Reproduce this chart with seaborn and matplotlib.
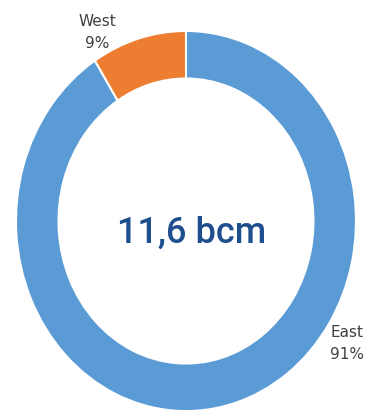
import matplotlib
matplotlib.use('Agg')
import seaborn as sns
import matplotlib.pyplot as plt

# datos del grafico
regiones = ['East', 'West']
porcentajes = [91, 9]
total_texto = '11,6 bcm'

sns.set_style('white')
plt.rcParams['font.family'] = ['Roboto', 'DejaVu Sans']
colores = sns.color_palette(['#5B9BD5', '#ED7D31'])

fig = plt.figure(figsize=(3.66, 4.12), dpi=100)
ax = fig.add_axes([0, 0, 1, 1])

# dona: East en sentido horario desde arriba, West cierra el circulo
ax.pie(porcentajes, colors=colores, startangle=90, counterclock=False,
       radius=1, wedgeprops=dict(width=0.25, edgecolor='white', linewidth=1.5))
# la dona original esta un poco aplastada en horizontal
ax.set_aspect('auto')
ax.set_xlim(-1.094, 1.059)
ax.set_ylim(-1.005, 1.163)
ax.axis('off')

# etiquetas
ax.text(-0.524, 0.99, f'{regiones[1]}\n{porcentajes[1]}%', ha='center', va='center',
        fontsize=11, color='#404040', linespacing=1.6, family='DejaVu Sans')
ax.text(0.95, -0.645, f'{regiones[0]}\n{porcentajes[0]}%', ha='center', va='center',
        fontsize=11, color='#404040', linespacing=1.6, family='DejaVu Sans')

# texto central
ax.text(0.035, -0.065, total_texto, ha='center', va='center',
        fontsize=26, fontweight='medium', color='#1F4E8F')

plt.savefig('out.png', dpi=100)
